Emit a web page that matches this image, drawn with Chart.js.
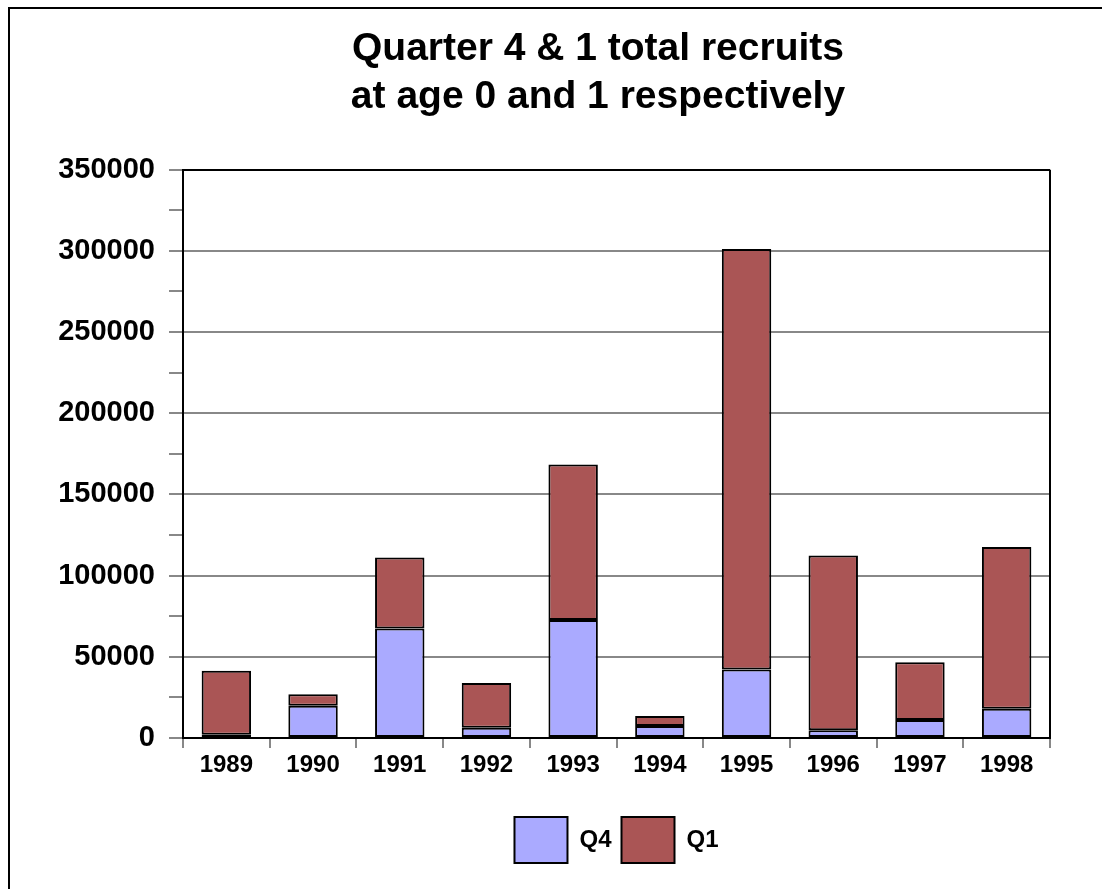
<!DOCTYPE html>
<html lang="en">
  <head>
    <meta charset="UTF-8" />
    <title>Quarter 4 &amp; 1 total recruits</title>
    <script src="https://cdn.jsdelivr.net/npm/chart.js@4.4.1/dist/chart.umd.min.js"></script>
    <style>
      body {
        margin: 0;
        background: #ffffff;
        overflow: hidden;
      }

      #frame {
        position: absolute;
        left: 8px;
        top: 7px;
        width: 1176px;
        height: 880px;
        border-left: 2px solid #000;
        border-top: 2px solid #000;
      }
    </style>
  </head>
  <body>
    <div id="frame">
      <canvas id="recruitsChart" width="1176" height="880"></canvas>
    </div>

    <script>
      const years = ["1989", "1990", "1991", "1992", "1993", "1994", "1995", "1996", "1997", "1998"];
      const q4Values = [2000, 19900, 67500, 6300, 72600, 7400, 42200, 4700, 11100, 18000];
      const q1Values = [39400, 7000, 43600, 27500, 95900, 6100, 258900, 107700, 35600, 99700];
      const titleLines = ["Quarter 4 & 1 total recruits", "at age 0 and 1 respectively"];

      const fontFamily = '"Liberation Sans", Arial, sans-serif';
      Chart.defaults.color = "#000";
      Chart.defaults.font.family = fontFamily;

      // right edge of the plot box (top edge comes from the 350000 grid line)
      const plotFrame = {
        id: "plotFrame",
        afterDraw(chart) {
          const { ctx, chartArea } = chart;
          ctx.save();
          ctx.strokeStyle = "#000";
          ctx.lineWidth = 2;
          ctx.beginPath();
          ctx.moveTo(chartArea.right, chartArea.top);
          ctx.lineTo(chartArea.right, chartArea.bottom);
          ctx.stroke();
          ctx.restore();
        },
      };

      const ctx = document.getElementById("recruitsChart").getContext("2d");
      new Chart(ctx, {
        type: "bar",
        data: {
          labels: years,
          datasets: [
            {
              label: "Q4",
              data: q4Values,
              backgroundColor: "#aaaaff",
              borderColor: "#000",
              borderWidth: 2,
              borderSkipped: false,
            },
            {
              label: "Q1",
              data: q1Values,
              backgroundColor: "#aa5555",
              borderColor: "#000",
              borderWidth: 2,
              borderSkipped: false,
            },
          ],
        },
        options: {
          responsive: false,
          animation: false,
          barPercentage: 0.57,
          categoryPercentage: 1.0,
          layout: {
            padding: { top: 0, left: 0, right: 0, bottom: 16 },
          },
          plugins: {
            title: {
              display: true,
              text: titleLines,
              color: "#000",
              font: { size: 39, weight: "bold", lineHeight: 1.24 },
              padding: { top: 16, bottom: 48 },
            },
            legend: {
              position: "bottom",
              fullSize: false,
              labels: {
                boxWidth: 53,
                boxHeight: 46,
                padding: 10,
                color: "#000",
                font: { size: 24, weight: "bold" },
              },
            },
            tooltip: { enabled: false },
          },
          scales: {
            x: {
              stacked: true,
              afterFit(scale) {
                scale.height = 69;
              },
              border: { color: "#000", width: 2 },
              grid: {
                offset: true,
                drawOnChartArea: false,
                tickLength: 10,
                tickColor: "#888",
                lineWidth: 2,
              },
              ticks: {
                padding: 3,
                font: { size: 24, weight: "bold" },
              },
            },
            y: {
              stacked: true,
              min: 0,
              max: 350000,
              afterFit(scale) {
                scale.width = 173;
              },
              border: { color: "#000", width: 2 },
              grid: {
                tickLength: 14,
                tickColor: "#888",
                lineWidth: 2,
                color(c) {
                  const v = c.tick ? c.tick.value : 0;
                  if (v === 350000) return "#000";
                  return v % 50000 === 0 ? "#888" : "rgba(0,0,0,0)";
                },
              },
              ticks: {
                stepSize: 25000,
                padding: 14,
                font: { size: 29, weight: "bold" },
                callback: (value) => (value % 50000 === 0 ? value : ""),
              },
            },
            // empty strip on the right so the plot ends where the reference does
            spacer: {
              type: "linear",
              position: "right",
              afterFit(scale) {
                scale.width = 136;
              },
              border: { display: false },
              grid: { display: false },
              ticks: { display: false },
            },
          },
        },
        plugins: [plotFrame],
      });
    </script>
  </body>
</html>
